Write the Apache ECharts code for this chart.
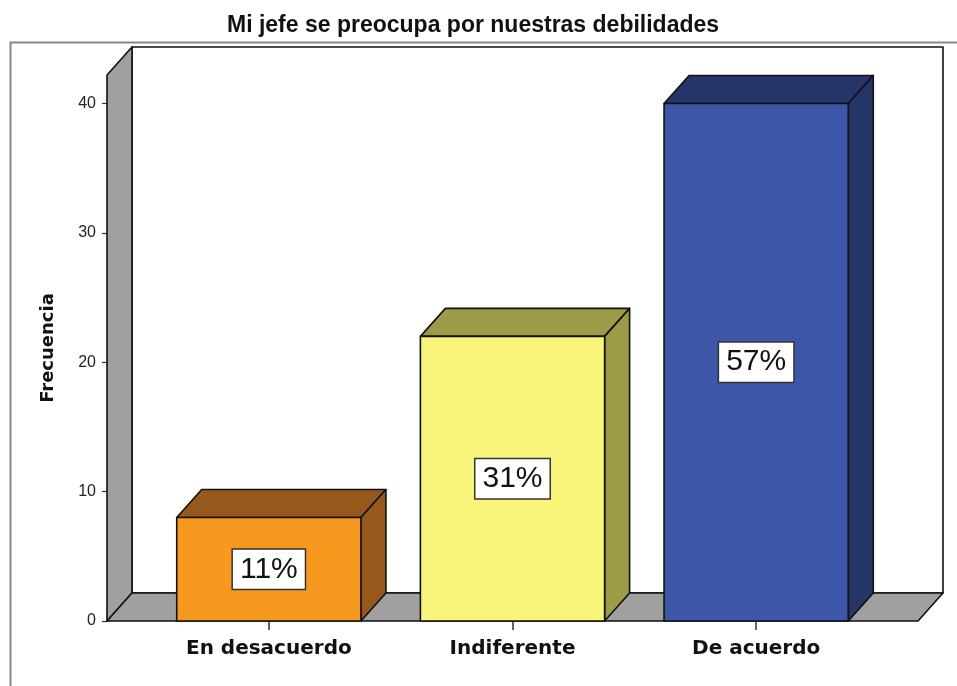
<!DOCTYPE html>
<html>
<head>
<meta charset="utf-8">
<script src="https://cdn.jsdelivr.net/npm/echarts@6/dist/echarts.min.js"></script>
<style>html,body{margin:0;padding:0;background:#fff}#c{width:957px;height:686px}</style>
</head>
<body>
<div id="c"></div>
<script>
// ---- data ----
const categories = ['En desacuerdo', 'Indiferente', 'De acuerdo'];
const frequencies = [8, 22, 40];
const percentLabels = ['11%', '31%', '57%'];
const yTicks = [0, 10, 20, 30, 40];
const titleText = 'Mi jefe se preocupa por nuestras debilidades';
const yName = 'Frecuencia';

// ---- style ----
const frontColors = ['#F7991F', '#F9F57A', '#3E56A8'];
const darkColors = ['#97591B', '#9D9A48', '#263567'];
const GRAY = '#A0A0A0';
const DX = 25, DY = -28;
const WALL_TOP = 42.2;
const EXT = 40;

const chart = echarts.init(document.getElementById('c'), null, {renderer: 'canvas'});

const option = {
  animation: false,
  backgroundColor: '#fff',
  title: {
    text: titleText, left: 222, top: 9,
    textStyle: {fontFamily: 'Liberation Sans', fontWeight: 'bold', fontSize: 23, color: '#111'}
  },
  graphic: [{
    type: 'rect', left: 8, top: 40, z: -10,
    shape: {width: 1100, height: 1000},
    style: {fill: 'none', stroke: '#888', lineWidth: 2}
  }],
  grid: {left: 147, right: 79, top: 75, bottom: 65, containLabel: false},
  xAxis: {
    type: 'category', data: categories,
    axisLine: {show: false},
    axisTick: {show: true, alignWithLabel: true, length: 9, lineStyle: {color: '#333', width: 1.5}},
    axisLabel: {margin: 18, fontFamily: 'DejaVu Sans', fontWeight: 'bold', fontSize: 20, color: '#111'},
    splitLine: {show: false}
  },
  yAxis: {
    type: 'value', min: 0, max: WALL_TOP, offset: 40,
    name: yName, nameLocation: 'middle', nameRotate: 90, nameGap: 50,
    nameTextStyle: {fontFamily: 'DejaVu Sans', fontWeight: 'bold', fontSize: 18, color: '#111'},
    axisLine: {show: false},
    axisTick: {show: true, length: 5, customValues: yTicks, lineStyle: {color: '#333', width: 1.2}},
    axisLabel: {margin: 11, customValues: yTicks, fontFamily: 'Liberation Sans', fontSize: 16, color: '#222'},
    splitLine: {show: false}
  },
  series: [
    {
      type: 'custom', z: 1, silent: true,
      data: [[0, 0]],
      renderItem(params, api) {
        const cs = params.coordSys;
        const xL = cs.x - EXT, xR = cs.x + cs.width + EXT;
        const y0 = api.coord([0, 0])[1];
        const yTop = api.coord([0, WALL_TOP])[1];
        const st = {stroke: '#111', lineWidth: 1.6, lineJoin: 'round'};
        return {type: 'group', children: [
          {type: 'polygon', shape: {points: [[xL + DX, yTop + DY], [xR + DX, yTop + DY], [xR + DX, y0 + DY], [xL + DX, y0 + DY]]},
            style: Object.assign({fill: '#fff'}, st)},
          {type: 'polygon', shape: {points: [[xL, yTop], [xL + DX, yTop + DY], [xL + DX, y0 + DY], [xL, y0]]},
            style: Object.assign({fill: GRAY}, st)},
          {type: 'polygon', shape: {points: [[xL, y0], [xL + DX, y0 + DY], [xR + DX, y0 + DY], [xR, y0]]},
            style: Object.assign({fill: GRAY}, st)}
        ]};
      }
    },
    {
      type: 'custom', z: 2, silent: true,
      data: frequencies.map((v, i) => [i, v]),
      renderItem(params, api) {
        const i = params.dataIndex;
        const c = api.coord([api.value(0), api.value(1)]);
        const b = api.coord([api.value(0), 0]);
        const bw = api.size([1, 0])[0] * 0.756;
        const x0 = c[0] - bw / 2, x1 = c[0] + bw / 2, yT = c[1], yB = b[1];
        const st = {stroke: '#111', lineWidth: 1.6, lineJoin: 'round'};
        return {type: 'group', children: [
          {type: 'polygon', shape: {points: [[x0, yT], [x0 + DX, yT + DY], [x1 + DX, yT + DY], [x1, yT]]},
            style: Object.assign({fill: darkColors[i]}, st)},
          {type: 'polygon', shape: {points: [[x1, yT], [x1 + DX, yT + DY], [x1 + DX, yB + DY], [x1, yB]]},
            style: Object.assign({fill: darkColors[i]}, st)},
          {type: 'rect', shape: {x: x0, y: yT, width: bw, height: yB - yT},
            style: Object.assign({fill: frontColors[i]}, st)},
          {type: 'text', x: c[0], y: (yT + yB) / 2,
            style: {text: percentLabels[i], align: 'center', verticalAlign: 'middle',
              fontFamily: 'Liberation Sans', fontSize: 30, fill: '#111',
              backgroundColor: '#fff', borderColor: '#333', borderWidth: 1.5, padding: [5, 7, 4, 7]}}
        ]};
      }
    }
  ]
};
chart.setOption(option);
</script>
</body>
</html>
